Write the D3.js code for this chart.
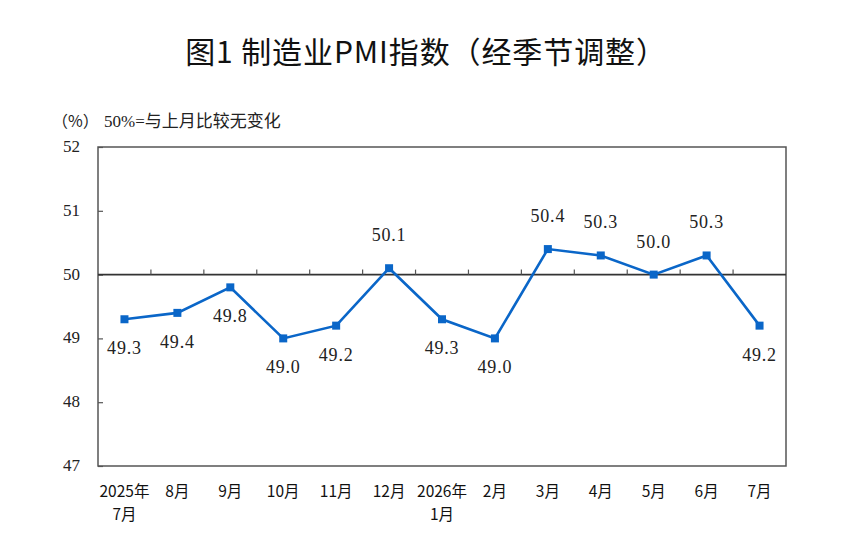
<!DOCTYPE html>
<html><head><meta charset="utf-8">
<script src="https://cdn.jsdelivr.net/npm/d3@7/dist/d3.min.js"></script>
<style>
html,body{margin:0;padding:0;background:#fff;}
svg{display:block;}
</style></head>
<body>
<svg id="chart" width="863" height="552"></svg>
<script>
const months = ["2025年\n7月","8月","9月","10月","11月","12月","2026年\n1月","2月","3月","4月","5月","6月","7月"];
const pmi = [49.3, 49.4, 49.8, 49.0, 49.2, 50.1, 49.3, 49.0, 50.4, 50.3, 50.0, 50.3, 49.2];
const yTicks = [47, 48, 49, 50, 51, 52];
const baseline = 50;
const title = "图1  制造业PMI指数（经季节调整）";
const unitLabel = "（%）";
const unitNote = "50%=与上月比较无变化";

const svg = d3.select("#chart");
const L = 98, R = 786, T = 147, B = 466;
const x = d3.scaleBand().domain(months).range([L, R]);
const y = d3.scaleLinear().domain([47, 52]).range([B, T]);
const serif = "'Liberation Serif','Times New Roman',serif";
const cjk = "'Noto Sans CJK SC','Noto Sans',sans-serif";

svg.append("text").attr("x", 426).attr("y", 63).attr("text-anchor", "middle")
  .attr("font-family", cjk).attr("font-size", 30).attr("font-weight", 400).attr("fill", "#111")
  .attr("letter-spacing", 0.9)
  .text(title);

svg.append("text").attr("x", 52).attr("y", 127)
  .attr("font-family", "'Noto Sans CJK SC'").attr("font-size", 16).attr("fill", "#222")
  .text(unitLabel);
svg.append("text").attr("x", 104).attr("y", 127)
  .attr("font-family", serif + ",'Noto Sans CJK SC'").attr("font-size", 17).attr("fill", "#222")
  .text(unitNote);

// frame
svg.append("rect").attr("x", L).attr("y", T).attr("width", R - L).attr("height", B - T)
  .attr("fill", "none").attr("stroke", "#555").attr("stroke-width", 1.5);

// y axis
const yAxis = d3.axisRight(y).tickValues(yTicks).tickSize(5).tickFormat("");
const gy = svg.append("g").attr("transform", `translate(${L},0)`).call(yAxis);
gy.select(".domain").remove();
gy.selectAll(".tick line").attr("stroke", "#555").attr("stroke-width", 1.2);
svg.append("g").selectAll("text").data(yTicks).join("text")
  .attr("x", 80).attr("y", d => y(d) + 5).attr("text-anchor", "end")
  .attr("font-family", serif).attr("font-size", 17).attr("fill", "#222")
  .text(d => d);

// baseline at 50 with band-boundary ticks
svg.append("line").attr("x1", L).attr("x2", R).attr("y1", y(baseline)).attr("y2", y(baseline))
  .attr("stroke", "#333").attr("stroke-width", 1.6);
const bounds = months.slice(1).map(m => x(m));
svg.append("g").selectAll("line").data(bounds).join("line")
  .attr("x1", d => d).attr("x2", d => d)
  .attr("y1", y(baseline)).attr("y2", y(baseline) - 5)
  .attr("stroke", "#555").attr("stroke-width", 1.2);

// x labels
const gx = svg.append("g").attr("font-family", cjk).attr("font-size", 15.5).attr("font-weight", 400).attr("fill", "#111");
months.forEach(m => {
  m.split("\n").forEach((s, i) => {
    gx.append("text").attr("text-anchor", "middle")
      .attr("x", x(m) + x.bandwidth() / 2).attr("y", 497 + i * 22.5).text(s);
  });
});

// line
const cx = (d, i) => x(months[i]) + x.bandwidth() / 2;
const line = d3.line().x((d, i) => cx(d, i)).y(d => y(d));
svg.append("path").datum(pmi).attr("d", line)
  .attr("fill", "none").attr("stroke", "#0A66C8").attr("stroke-width", 2.6).attr("stroke-linejoin", "miter");

const ms = 8;
svg.append("g").selectAll("rect").data(pmi).join("rect")
  .attr("x", (d, i) => cx(d, i) - ms / 2).attr("y", d => y(d) - ms / 2)
  .attr("width", ms).attr("height", ms).attr("fill", "#0A66C8");

svg.append("g").selectAll("text").data(pmi).join("text")
  .attr("x", (d, i) => cx(d, i))
  .attr("y", d => d >= baseline ? y(d) - 27 : y(d) + 35)
  .attr("text-anchor", "middle")
  .attr("font-family", serif).attr("font-size", 18).attr("letter-spacing", 0.8).attr("fill", "#222")
  .text(d => d.toFixed(1));
</script>
</body></html>
